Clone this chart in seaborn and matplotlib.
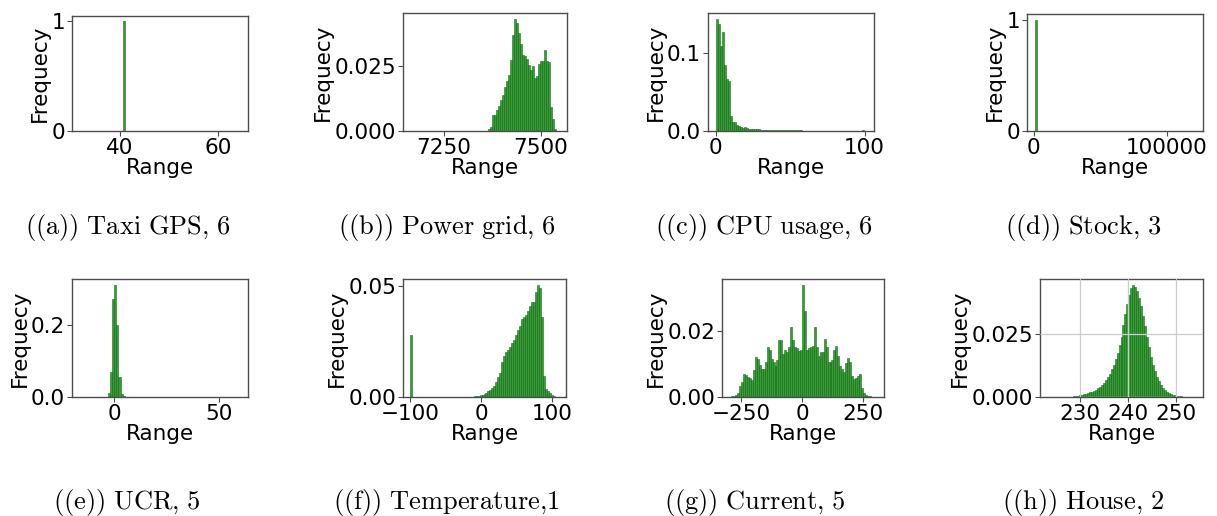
import numpy as np
import pandas as pd
import matplotlib
matplotlib.use("Agg")
import matplotlib.pyplot as plt
import seaborn as sns

# -----------------------------------------------------
# DATA (75 bins over each series' min..max, heights of the non-empty run)
# -----------------------------------------------------
NBINS = 75

taxi_range = (31.8, 64.5)
taxi_start = 20
taxi_freq = [1.0]

power_range = (7163, 7548)
power_start = 39
power_freq = [0.0008, 0.0016, 0.0060, 0.0062, 0.0080, 0.0098, 0.0119, 0.0137,
              0.0168, 0.0194, 0.0215, 0.0275, 0.0368, 0.0433, 0.0417, 0.0376,
              0.0337, 0.0293, 0.0288, 0.0277, 0.0255, 0.0236, 0.0249, 0.0203,
              0.0210, 0.0259, 0.0268, 0.0268, 0.0313, 0.0268, 0.0265, 0.0093,
              0.0048, 0.0009]

cpu_range = (0.0, 101.3)
cpu_start = 0
cpu_freq = [0.1444, 0.1379, 0.1086, 0.1276, 0.0849, 0.0668, 0.0642, 0.0190,
            0.0116, 0.0112, 0.0073, 0.0065, 0.0047, 0.0043, 0.0047, 0.0043,
            0.0030, 0.0030, 0.0022, 0.0022, 0.0022, 0.0022, 0.0015, 0.0013,
            0.0013, 0.0013, 0.0013, 0.0012, 0.0012, 0.0012, 0.0012, 0.0011,
            0.0011, 0.0011, 0.0011, 0.0011, 0.0010, 0.0010, 0.0010, 0.0010,
            0.0010, 0.0010, 0.0010, 0.0, 0.0, 0.0, 0.0, 0.0, 0.0, 0.0, 0.0,
            0.0, 0.0, 0.0, 0.0, 0.0, 0.0, 0.0, 0.0, 0.0, 0.0, 0.0, 0.0, 0.0,
            0.0, 0.0, 0.0, 0.0, 0.0, 0.0, 0.0, 0.0, 0.0, 0.0013]

stock_range = (1068, 121432)
stock_start = 0
stock_freq = [1.0]

ucr_range = (-16.2, 60.0)
ucr_start = 13
ucr_freq = [0.011, 0.069, 0.270, 0.311, 0.198, 0.055, 0.0075, 0.004]

temp_range = (-100.1, 109.7)
temp_start = 0
temp_freq = [0.0276] + [0.0] * 30 + [
    0.00015, 0.0003, 0.0003, 0.0004, 0.0007, 0.0010, 0.0015, 0.0019,
    0.0025, 0.0031, 0.0039, 0.0048, 0.0066, 0.0088, 0.0107, 0.0155,
    0.0185, 0.0200, 0.0209, 0.0224, 0.0242, 0.0254, 0.0279, 0.0301,
    0.0319, 0.0349, 0.0361, 0.0369, 0.0384, 0.0409, 0.0424, 0.0424,
    0.0469, 0.0504, 0.0488, 0.0361, 0.0096, 0.0036, 0.0025, 0.0018,
    0.0010, 0.0004]

current_range = (-298.8, 304.2)
current_start = 0
current_freq = [0.0001, 0.0002, 0.0004, 0.0007, 0.0012, 0.0032, 0.0045, 0.0069,
                0.0065, 0.0060, 0.0057, 0.0052, 0.0080, 0.0119, 0.0115, 0.0096,
                0.0084, 0.0084, 0.0104, 0.0149, 0.0142, 0.0114, 0.0104, 0.0094,
                0.0110, 0.0170, 0.0170, 0.0130, 0.0140, 0.0134, 0.0150, 0.0210,
                0.0170, 0.0150, 0.0148, 0.0138, 0.0140, 0.0338, 0.0258, 0.0142,
                0.0146, 0.0150, 0.0154, 0.0210, 0.0150, 0.0124, 0.0134, 0.0134,
                0.0174, 0.0150, 0.0104, 0.0106, 0.0110, 0.0140, 0.0154, 0.0122,
                0.0094, 0.0084, 0.0076, 0.0102, 0.0118, 0.0104, 0.0064, 0.0054,
                0.0056, 0.0064, 0.0070, 0.0028, 0.0012, 0.0006, 0.0004, 0.0002,
                0.0001]

house_range = (223.2, 254.1)
house_start = 13
house_freq = [0.0002, 0.0003, 0.0005, 0.0007, 0.0009, 0.0011, 0.0013, 0.0015,
              0.0018, 0.0021, 0.0024, 0.0029, 0.0034, 0.0040, 0.0047, 0.0056,
              0.0067, 0.0079, 0.0093, 0.0110, 0.0128, 0.0150, 0.0175, 0.0205,
              0.0240, 0.0285, 0.0330, 0.0370, 0.0405, 0.0432, 0.0447, 0.0438,
              0.0422, 0.0395, 0.0360, 0.0322, 0.0282, 0.0240, 0.0198, 0.0160,
              0.0128, 0.0102, 0.0080, 0.0062, 0.0048, 0.0037, 0.0028, 0.0021,
              0.0016, 0.0012, 0.0009, 0.0007, 0.0005, 0.0003, 0.0002]

captions = [r"((a))\ Taxi\ GPS{,}\ 6", r"((b))\ Power\ grid{,}\ 6",
            r"((c))\ CPU\ usage{,}\ 6", r"((d))\ Stock{,}\ 3",
            r"((e))\ UCR{,}\ 5", r"((f))\ Temperature{,}1",
            r"((g))\ Current{,}\ 5", r"((h))\ House{,}\ 2"]

xticks = [[40, 60], [7250, 7500], [0, 100], [0, 100000],
          [0, 50], [-100, 0, 100], [-250, 0, 250], [230, 240, 250]]
yticks = [[0, 1], [0.0, 0.025], [0.0, 0.1], [0, 1],
          [0.0, 0.2], [0.0, 0.05], [0.0, 0.02], [0.0, 0.025]]
yfmt = ["%d", "%.3f", "%.1f", "%d", "%.1f", "%.2f", "%.2f", "%.3f"]

series = [
    (taxi_range, taxi_start, taxi_freq),
    (power_range, power_start, power_freq),
    (cpu_range, cpu_start, cpu_freq),
    (stock_range, stock_start, stock_freq),
    (ucr_range, ucr_start, ucr_freq),
    (temp_range, temp_start, temp_freq),
    (current_range, current_start, current_freq),
    (house_range, house_start, house_freq),
]

# -----------------------------------------------------
# LAYOUT (pixel boxes: left, top, right, bottom)
# -----------------------------------------------------
W, H = 1217, 516
boxes = [(72, 16, 248, 131), (403, 13, 567, 131), (708, 13, 874, 131), (1027, 14, 1203, 131),
         (72, 279, 248, 397), (403, 279, 566, 397), (722, 279, 884, 397), (1040, 279, 1203, 397)]
cap_pos = [(128, 234), (447, 234), (764, 234), (1083, 234),
           (127, 509), (446, 509), (755, 509), (1083, 509)]
FS = 15.5

sns.set_style("ticks")
plt.rcParams["font.family"] = ["DejaVu Sans"]
plt.rcParams["mathtext.fontset"] = "cm"

fig = plt.figure(figsize=(W / 100, H / 100), dpi=100)

for i, ((lo, hi), start, freq) in enumerate(series):
    l, t, r, b = boxes[i]
    ax = fig.add_axes([l / W, 1 - b / H, (r - l) / W, (b - t) / H])

    edges = np.linspace(lo, hi, NBINS + 1)
    weights = np.zeros(NBINS)
    weights[start:start + len(freq)] = freq
    df = pd.DataFrame({"x": (edges[:-1] + edges[1:]) / 2, "w": weights})

    sns.histplot(data=df, x="x", weights="w", bins=edges.tolist(), ax=ax,
                 color="green", alpha=0.78, edgecolor="#1a6e1a", linewidth=0.4)

    ax.set_xticks(xticks[i])
    ax.set_yticks(yticks[i])
    ax.yaxis.set_major_formatter(matplotlib.ticker.FormatStrFormatter(yfmt[i]))
    ax.tick_params(labelsize=FS, length=3.5, width=0.8, color="0.3",
                   labelcolor="black", pad=1.5)
    ax.set_xlabel("Range", fontsize=FS, labelpad=0, color="black")
    ax.set_ylabel("Frequecy", fontsize=FS, labelpad=1, color="black")
    for s in ax.spines.values():
        s.set_color("0.3")
        s.set_linewidth(1.0)

    if i == 7:
        ax.grid(True, color="0.8", linewidth=0.9)
        ax.set_axisbelow(False)

    cx, cy = cap_pos[i]
    fig.text(cx / W, 1 - cy / H, r"$\mathrm{" + captions[i] + "}$",
             fontsize=19, ha="center", va="baseline", color="black")

fig.savefig("out.png", dpi=100)
